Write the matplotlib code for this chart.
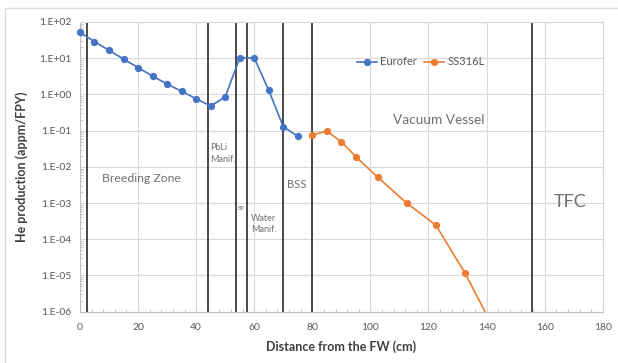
import matplotlib
matplotlib.use("Agg")
import matplotlib.pyplot as plt
from matplotlib.patches import Rectangle
from matplotlib.ticker import FixedLocator, LogLocator, MultipleLocator, NullFormatter

plt.rcParams['font.family'] = ['Lato', 'DejaVu Sans']

# data
eurofer_x = [0, 5, 10, 15, 20, 25, 30, 35, 40, 45, 50, 55, 60, 65, 70, 75]
eurofer_y = [52, 28.6, 16.5, 9.5, 5.5, 3.2, 1.94, 1.22, 0.76, 0.48, 0.85,
             10.2, 10.2, 1.3, 0.129, 0.0695]
ss316_x = [80, 85, 90, 95, 102.5, 112.5, 122.5, 132.5, 142.5]
ss316_y = [0.076, 0.0975, 0.049, 0.019, 0.0052, 0.001, 2.47e-4, 1.2e-5, 3.4e-7]

boundaries = [2.3, 44.2, 53.6, 57.6, 70, 80, 155.8]

y_ticks = [1e-6, 1e-5, 1e-4, 1e-3, 1e-2, 1e-1, 1e0, 1e1, 1e2]
y_tick_labels = ['1.E-06', '1.E-05', '1.E-04', '1.E-03', '1.E-02',
                 '1.E-01', '1.E+00', '1.E+01', '1.E+02']
x_ticks = [0, 20, 40, 60, 80, 100, 120, 140, 160, 180]

fig = plt.figure(figsize=(6.18, 3.63), dpi=100)
ax = fig.add_axes([0.1294, 0.1413, 0.8459, 0.7981])

# light chart frame like the excel chart area
fig.patches.append(Rectangle((5 / 618, -0.5), 2, 0.5 + 1 - 8 / 363,
                             transform=fig.transFigure, fill=False,
                             edgecolor='#d9d9d9', linewidth=1))

ax.set_yscale('log')
ax.set_xlim(0, 180)
ax.set_ylim(1e-6, 1e2)

ax.grid(True, which='major', color='#d9d9d9', linewidth=0.8)
ax.set_axisbelow(True)

for b in boundaries:
    ax.axvline(b, color='#3a3a3a', linewidth=1.3, zorder=2)

eu, = ax.plot(eurofer_x, eurofer_y, color='#4472C4', marker='o', markersize=4.2,
              linewidth=1.2, label='Eurofer', zorder=3)
eu.set_clip_on(False)
ax.plot(ss316_x, ss316_y, color='#ED7D31', marker='o', markersize=4.2,
        linewidth=1.2, label='SS316L', zorder=3)

ax.yaxis.set_major_locator(FixedLocator(y_ticks))
ax.set_yticklabels(y_tick_labels)
ax.yaxis.set_minor_locator(LogLocator(base=10, subs=range(2, 10), numticks=20))
ax.yaxis.set_minor_formatter(NullFormatter())
ax.set_xticks(x_ticks)
ax.xaxis.set_minor_locator(MultipleLocator(4))

ax.tick_params(which='major', length=0, labelsize=7.5, labelcolor='#595959', pad=6)
ax.tick_params(which='minor', direction='in', length=2.5, color='#bfbfbf')
ax.tick_params(axis='x', which='major', pad=8)

for s in ax.spines.values():
    s.set_color('#d9d9d9')
ax.spines['bottom'].set_color('#bfbfbf')
ax.spines['left'].set_color('#bfbfbf')

ax.set_ylabel('He production (appm/FPY)', fontsize=9, fontweight='bold',
              color='#404040', labelpad=8)
ax.set_xlabel('Distance from the FW (cm)', fontsize=9, fontweight='bold',
              color='#404040', labelpad=6)

txt = '#707070'
ax.text(21.2, 10 ** -2.31, 'Breeding Zone', fontsize=8.8, color=txt, ha='center', va='center')
ax.text(44.8, 10 ** -1.63, 'PbLi\nManif.', fontsize=6.5, color=txt, ha='left', va='center',
        linespacing=1.3)
ax.text(54.1, 10 ** -3.16, 'BP', fontsize=4, color=txt, ha='left', va='center')
ax.text(58.8, 10 ** -3.59, 'Water\nManif.', fontsize=6.5, color=txt, ha='left', va='center',
        linespacing=1.3)
ax.text(74.6, 10 ** -2.48, 'BSS', fontsize=8, color=txt, ha='center', va='center')
ax.text(123.6, 10 ** -0.707, 'Vacuum Vessel', fontsize=9.8, color=txt, ha='center', va='center')
ax.text(168.9, 10 ** -2.98, 'TFC', fontsize=13, color=txt, ha='center', va='center')

leg = ax.legend(loc='center', bbox_to_anchor=(0.652, 0.862), ncol=2, frameon=False,
                fontsize=8, handlelength=1.8, handletextpad=0.3, columnspacing=0.6,
                labelcolor='#595959')

fig.savefig('out.png', dpi=100)
